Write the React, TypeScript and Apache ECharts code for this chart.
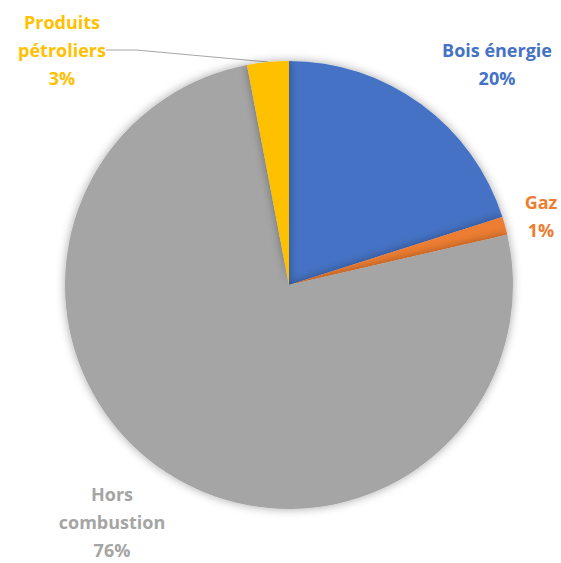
import React, { useEffect, useRef } from "react";
import * as echarts from "echarts";

const categories = ["Bois énergie", "Gaz", "Hors combustion", "Produits pétroliers"];
const labelNames = ["Bois énergie", "Gaz", "Hors\ncombustion", "Produits\npétroliers"];
const values = [20.1, 1.3, 75.6, 3.0];
const colors = ["#4472C4", "#ED7D31", "#A5A5A5", "#FFC000"];
const labelPos: [number, number][] = [
  [497, 64],
  [541, 216],
  [112, 522],
  [62, 50],
];

export default function App() {
  const ref = useRef<HTMLDivElement>(null);
  useEffect(() => {
    if (!ref.current) return;
    const chart = echarts.init(ref.current, null, { renderer: "svg" });
    chart.setOption({
      animation: false,
      backgroundColor: "#ffffff",
      series: [
        {
          type: "pie",
          center: [289, 285],
          radius: 224,
          startAngle: 90,
          clockwise: true,
          percentPrecision: 0,
          avoidLabelOverlap: false,
          itemStyle: {
            shadowBlur: 10,
            shadowColor: "rgba(0,0,0,0.35)",
          },
          label: {
            show: true,
            position: "outside",
            formatter: (p: any) => `${labelNames[p.dataIndex]}\n${p.percent}%`,
            fontFamily: "Open Sans",
            fontWeight: "bold",
            fontSize: 18,
            lineHeight: 28,
            align: "center",
            overflow: "none",
          },
          labelLine: { show: false },
          labelLayout: (p: any) => ({
            x: labelPos[p.dataIndex][0],
            y: labelPos[p.dataIndex][1],
            align: "center",
            verticalAlign: "middle",
            hideOverlap: false,
          }),
          data: categories.map((c, i) => ({
            name: c,
            value: values[i],
            itemStyle: { color: colors[i] },
            label: { color: colors[i] },
            labelLine:
              i === 3
                ? { show: true, lineStyle: { color: "#A6A6A6", width: 1 } }
                : { show: false },
          })),
        },
      ],
    });
    return () => chart.dispose();
  }, []);
  return (
    <div
      ref={ref}
      style={{ position: "absolute", left: 0, top: 0, width: 561, height: 563 }}
    />
  );
}
